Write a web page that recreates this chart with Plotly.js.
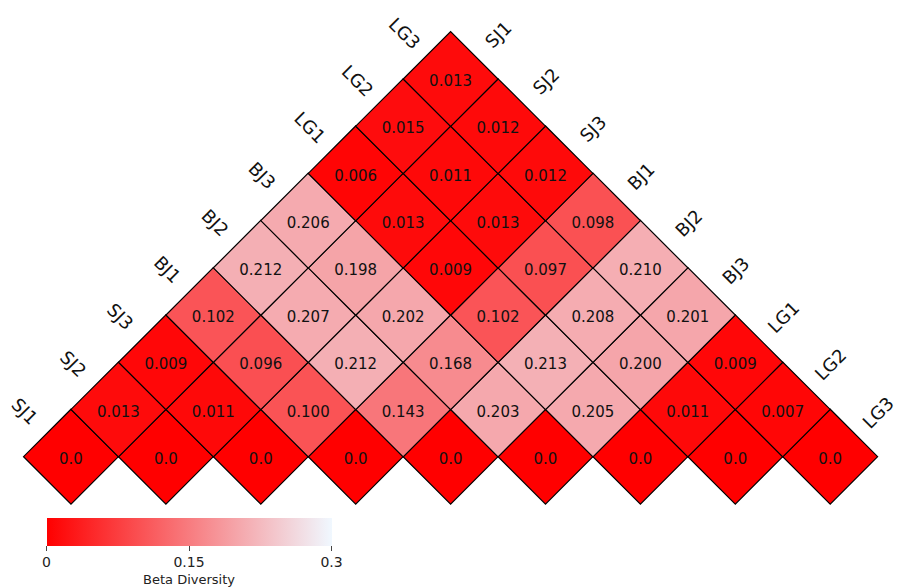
<!DOCTYPE html>
<html>
<head>
<meta charset="utf-8">
<script src="https://cdn.plot.ly/plotly-3.0.1.min.js"></script>
<style>
  html, body { margin: 0; padding: 0; background: #fff; }
  #chart { width: 906px; height: 588px; }
</style>
</head>
<body>
<div id="chart"></div>
<script>
// Sample names, in matrix order
const samples = ['SJ1', 'SJ2', 'SJ3', 'BJ1', 'BJ2', 'BJ3', 'LG1', 'LG2', 'LG3'];

// Beta diversity between sample i and sample i + d, one array per offset d
const offset0 = [0, 0, 0, 0, 0, 0, 0, 0, 0];
const offset1 = [0.013, 0.011, 0.100, 0.143, 0.203, 0.205, 0.011, 0.007];
const offset2 = [0.009, 0.096, 0.212, 0.168, 0.213, 0.200, 0.009];
const offset3 = [0.102, 0.207, 0.202, 0.102, 0.208, 0.201];
const offset4 = [0.212, 0.198, 0.009, 0.097, 0.210];
const offset5 = [0.206, 0.013, 0.013, 0.098];
const offset6 = [0.006, 0.011, 0.012];
const offset7 = [0.015, 0.012];
const offset8 = [0.013];
const offsets = [offset0, offset1, offset2, offset3, offset4, offset5, offset6, offset7, offset8];

// Colour scale limits and colorbar ticks
const colorMin = 0;
const colorMax = 0.3;
const cbTickVals = [0, 0.15, 0.3];
const cbTickText = ['0', '0.15', '0.3'];

// Geometry: one axis unit = half the diagonal of a cell
const W = 906, H = 588;
const UNIT = 47.45;          // pixels per axis unit
const ORIGIN_X = 71;         // pixel x of the first diagonal cell centre
const ORIGIN_Y = 459;        // pixel y of the diagonal row centres
const TEXT_DROP = 3.5;       // pixels to lower the value text onto the cell centre

// Rotated matrix: cell (i, j) sits at x = i + j, y = j - i
const xs = [], ys = [], vals = [], texts = [];
offsets.forEach((row, d) => {
  row.forEach((v, i) => {
    const j = i + d;
    xs.push(i + j);
    ys.push(j - i);
    vals.push(v);
    texts.push(v === 0 ? '0.0' : v.toFixed(3));
  });
});

const cells = {
  type: 'scatter',
  mode: 'markers',
  x: xs,
  y: ys,
  hoverinfo: 'skip',
  marker: {
    symbol: 'diamond',
    // plotly's diamond reaches 1.3 * radius from the centre
    size: 2 * UNIT / 1.3,
    color: vals,
    cmin: colorMin,
    cmax: colorMax,
    colorscale: [[0, '#ff0000'], [1, '#f0f8ff']],
    line: { color: '#000', width: 1.2 },
    opacity: 1,
    showscale: true,
    colorbar: {
      orientation: 'h',
      x: 189 / W,
      xanchor: 'center',
      y: 1 - 521 / H,
      yanchor: 'top',
      len: 285,
      lenmode: 'pixels',
      thickness: 28,
      thicknessmode: 'pixels',
      xpad: 0,
      ypad: 0,
      outlinewidth: 0,
      ticks: 'outside',
      ticklen: 5,
      tickcolor: '#444',
      tickvals: cbTickVals,
      ticktext: cbTickText,
      tickfont: { family: 'DejaVu Sans', size: 14, color: '#222' },
      title: {
        text: 'Beta Diversity',
        side: 'bottom',
        font: { family: 'DejaVu Sans', size: 13, color: '#222' }
      }
    }
  }
};

// Value labels, centred in each cell
const labels = {
  type: 'scatter',
  mode: 'text',
  x: xs,
  y: ys.map(y => y - TEXT_DROP / UNIT),
  text: texts,
  textposition: 'middle center',
  textfont: { family: 'DejaVu Sans', size: 15, color: '#111' },
  hoverinfo: 'skip'
};

// Sample labels along both upper edges of the triangle
const annotations = [];
samples.forEach((name, k) => {
  // left edge: cell (0, k), label outside its upper-left side
  annotations.push({
    x: k - 0.5, y: k + 0.5, xref: 'x', yref: 'y',
    text: name, showarrow: false, textangle: 45,
    xshift: -22, yshift: 22,
    font: { family: 'DejaVu Sans', size: 18, color: '#111' }
  });
  // right edge: cell (k, 8), label outside its upper-right side
  const n = samples.length - 1;
  annotations.push({
    x: k + n + 0.5, y: n - k + 0.5, xref: 'x', yref: 'y',
    text: name, showarrow: false, textangle: -45,
    xshift: 24, yshift: 21,
    font: { family: 'DejaVu Sans', size: 18, color: '#111' }
  });
});

const layout = {
  width: W,
  height: H,
  margin: { l: 0, r: 0, t: 0, b: 0 },
  paper_bgcolor: '#fff',
  plot_bgcolor: '#fff',
  showlegend: false,
  xaxis: {
    visible: false,
    range: [-ORIGIN_X / UNIT, (W - ORIGIN_X) / UNIT],
    fixedrange: true
  },
  yaxis: {
    visible: false,
    range: [(ORIGIN_Y - H) / UNIT, ORIGIN_Y / UNIT],
    fixedrange: true
  },
  annotations: annotations
};

Plotly.newPlot('chart', [cells, labels], layout, { displayModeBar: false, staticPlot: true });
</script>
</body>
</html>
